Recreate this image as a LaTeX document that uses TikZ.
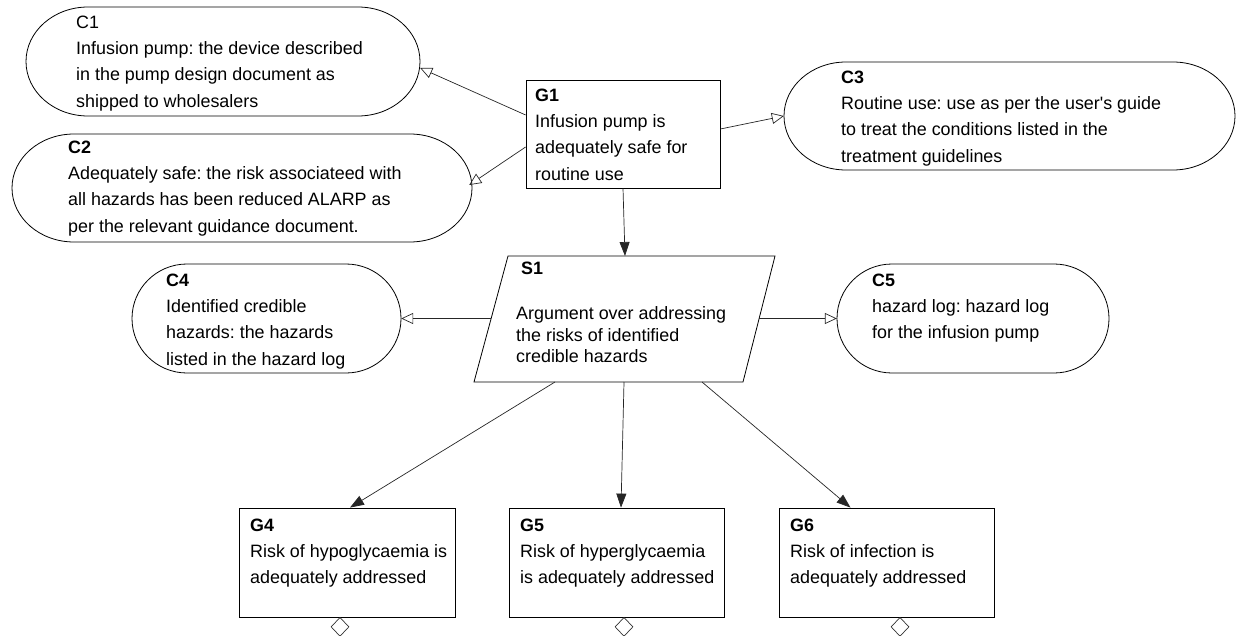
\documentclass[tikz,border=0pt]{standalone}
\usepackage{fontspec}
\setmainfont{Liberation Sans}
\usetikzlibrary{arrows.meta,shapes.geometric,calc}
\frenchspacing
\begin{document}
\begin{tikzpicture}[x=1pt,y=-1pt,
  txt/.style={anchor=north west,inner sep=0pt,align=left,font=\fontsize{17.9}{26.3}\selectfont},
  stxt/.style={anchor=north west,inner sep=0pt,align=left,font=\fontsize{17.9}{21.5}\selectfont},
  box/.style={draw=black,line width=0.8pt,inner sep=0pt,rectangle},
  ghost/.style={draw=none,inner sep=0pt,rectangle},
  outline/.style={draw=black,line width=0.8pt},
  conn/.style={draw=black!85,line width=0.7pt},
  solved/.style={conn,-{Triangle[length=14pt,width=10pt]}},
  incontext/.style={conn,-{Triangle[open,length=12pt,width=11pt]}},
  dia/.style={diamond,draw=black!80,line width=0.7pt,inner sep=0pt,minimum width=18pt,minimum height=19pt}
]
\useasboundingbox (0,0) rectangle (1236,636);

% ---- context shapes (stadium with elliptic ends) ----
\node[ghost,minimum width=394pt,minimum height=109pt] (C1) at (223,61.5) {};
\draw[outline] (88,7) -- (358,7) arc[start angle=-90,end angle=90,x radius=62,y radius=54.5] -- (88,116) arc[start angle=90,end angle=270,x radius=62,y radius=54.5] -- cycle;
\node[ghost,minimum width=460pt,minimum height=108pt] (C2) at (242,188) {};
\draw[outline] (74,134) -- (410,134) arc[start angle=-90,end angle=90,x radius=62,y radius=54] -- (74,242) arc[start angle=90,end angle=270,x radius=62,y radius=54] -- cycle;
\node[ghost,minimum width=451pt,minimum height=108pt] (C3) at (1009.5,116) {};
\draw[outline] (846,62) -- (1173,62) arc[start angle=-90,end angle=90,x radius=62,y radius=54] -- (846,170) arc[start angle=90,end angle=270,x radius=62,y radius=54] -- cycle;
\node[ghost,minimum width=269pt,minimum height=109pt] (C4) at (266.5,318.5) {};
\draw[outline] (187,264) -- (346,264) arc[start angle=-90,end angle=90,x radius=55,y radius=54.5] -- (187,373) arc[start angle=90,end angle=270,x radius=55,y radius=54.5] -- cycle;
\node[ghost,minimum width=272pt,minimum height=109pt] (C5) at (973,318.5) {};
\draw[outline] (892,264) -- (1054,264) arc[start angle=-90,end angle=90,x radius=55,y radius=54.5] -- (892,373) arc[start angle=90,end angle=270,x radius=55,y radius=54.5] -- cycle;

% ---- goals ----
\node[box,minimum width=194pt,minimum height=108pt] (G1) at (623,134) {};
\node[box,minimum width=216pt,minimum height=109pt] (G4) at (347,562.5) {};
\node[box,minimum width=215pt,minimum height=109pt] (G5) at (616.5,562.5) {};
\node[box,minimum width=215pt,minimum height=109pt] (G6) at (886.5,562.5) {};

% ---- strategy (parallelogram) ----
\node[ghost,minimum width=301pt,minimum height=126pt] (S1) at (624.5,319) {};
\draw[outline] (508,256) coordinate (S1tl) -- (775,256) coordinate (S1tr) -- (743,382) coordinate (S1br) -- (474,382) coordinate (S1bl) -- cycle;
\coordinate (S1in) at (625,256);
\coordinate (S1l) at (491.3,318.5);
\coordinate (S1r) at (759.3,318.5);
\coordinate (S1o4) at (555,382);
\coordinate (S1o5) at (624,382);
\coordinate (S1o6) at (702,382);

% ---- undeveloped diamonds ----
\node[dia,anchor=north] (U4) at (340,617) {};
\node[dia,anchor=north] (U5) at (624,617) {};
\node[dia,anchor=north] (U6) at (900,617) {};

% ---- texts ----
\node[txt] (C1t) at (76,15.5) {C1\\Infusion pump: the device described\\in the pump design document as\\shipped to wholesalers};
\node[txt] (C2t) at (68,140.5) {\textbf{C2}\\Adequately safe: the risk associateed with\\all hazards has been reduced ALARP as\\per the relevant guidance document.};
\node[txt] (C3t) at (841,70.5) {\textbf{C3}\\Routine use: use as per the user\textquotesingle s guide\\to treat the conditions listed in the\\treatment guidelines};
\node[txt] (G1t) at (535,88.5) {\textbf{G1}\\Infusion pump is\\adequately safe for\\routine use};
\node[txt] (C4t) at (166,273.5) {\textbf{C4}\\Identified credible\\hazards: the hazards\\listed in the hazard log};
\node[txt] (C5t) at (872,273.5) {\textbf{C5}\\hazard log: hazard log\\for the infusion pump};
\node[txt] (S1h) at (521,261.5) {\textbf{S1}};
\node[stxt] (S1t) at (516,306.5) {Argument over addressing\\the risks of identified\\credible hazards};
\node[txt] (G4t) at (250,518.5) {\textbf{G4}\\Risk of hypoglycaemia is\\adequately addressed};
\node[txt] (G5t) at (520,518.5) {\textbf{G5}\\Risk of hyperglycaemia\\is adequately addressed};
\node[txt] (G6t) at (790,518.5) {\textbf{G6}\\Risk of infection is\\adequately addressed};

% ---- connectors ----
\draw[incontext] ($(G1.west)+(0,-19)$) -- ($(C1.east)+(0,6.5)$);
\draw[incontext] ($(G1.west)+(0,13)$) -- ($(C2.east)+(-3,-3)$);
\draw[incontext] ($(G1.east)+(0,-5)$) -- (C3.west);
\draw[solved] (G1.south) -- (S1in);
\draw[incontext] (S1l) -- (C4.east);
\draw[incontext] (S1r) -- (C5.west);
\draw[solved] (S1o4) -- ($(G4.north)+(3,0)$);
\draw[solved] (S1o5) -- ($(G5.north)+(4.5,0)$);
\draw[solved] (S1o6) -- ($(G6.north)+(-36,0)$);
\end{tikzpicture}
\end{document}
